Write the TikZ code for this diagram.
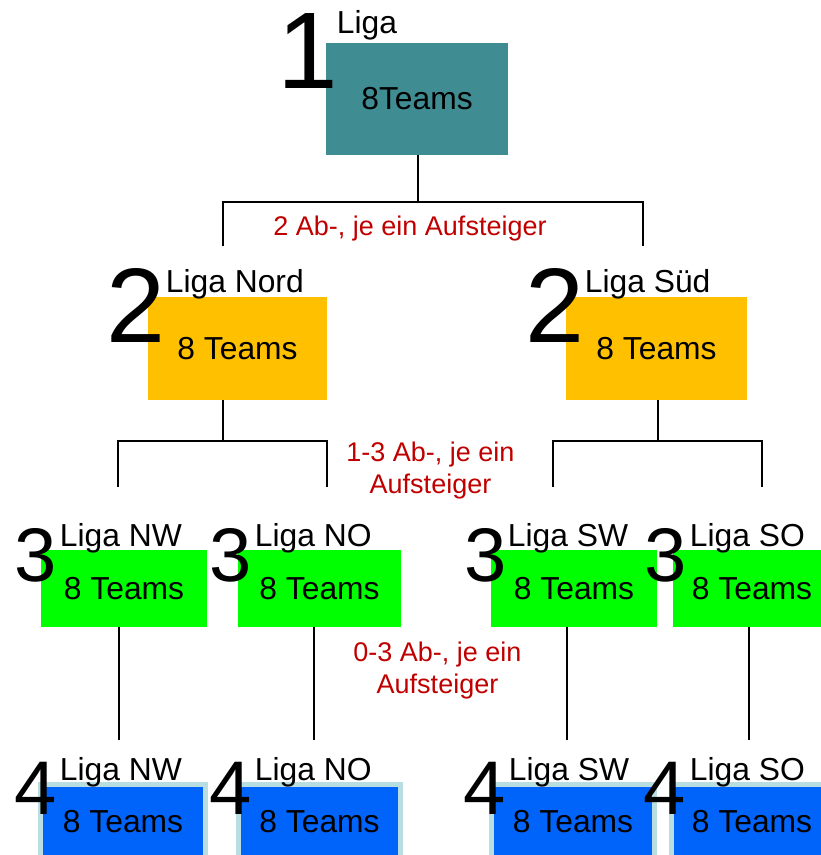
\documentclass[tikz,border=0pt]{standalone}
\usepackage{fontspec}
\setmainfont{Liberation Sans}
\usetikzlibrary{positioning}

\definecolor{cone}{RGB}{63,141,147}
\definecolor{ctwo}{RGB}{255,192,0}
\definecolor{cthree}{RGB}{0,255,0}
\definecolor{cfour}{RGB}{0,100,250}
\definecolor{crim}{RGB}{185,222,226}
\definecolor{cred}{RGB}{192,0,0}

\begin{document}
\begin{tikzpicture}[x=1pt, y=-1pt,
		b/.style={rectangle, inner sep=0pt, font=\fontsize{31.8}{32}\selectfont},
		b1/.style={b, fill=cone, minimum height=112},
		b2/.style={b, fill=ctwo, minimum height=103},
		b3/.style={b, fill=cthree, minimum height=77},
		b4/.style={b, fill=cfour, draw=crim, line width=5, minimum height=75},
		nr/.style={inner sep=0pt, anchor=base, font=\fontsize{#1}{#1}\selectfont},
		lb/.style={inner sep=0pt, anchor=base west, font=\fontsize{31.8}{32}\selectfont},
		rt/.style={inner sep=0pt, anchor=base, text=cred, align=center, font=\fontsize{27}{32}\selectfont},
		ln/.style={line width=2}]
		\useasboundingbox (0,0) rectangle (821,855);

		% boxes
		\node[b1, minimum width=182] (liga) at (417,99) {8Teams};
		\node[b2, minimum width=179] (nord) at (237.5,348.5) {8 Teams};
		\node[b2, minimum width=181] (sued) at (656.5,348.5) {8 Teams};
		\node[b3, minimum width=166] (nw3) at (124,588.5) {8 Teams};
		\node[b3, minimum width=163] (no3) at (319.5,588.5) {8 Teams};
		\node[b3, minimum width=166] (sw3) at (574,588.5) {8 Teams};
		\node[b3, minimum width=158] (so3) at (752,588.5) {8 Teams};
		\node[b4, minimum width=165] (nw4) at (123,822) {8 Teams};
		\node[b4, minimum width=162] (no4) at (319.5,822) {8 Teams};
		\node[b4, minimum width=163] (sw4) at (573,822) {8 Teams};
		\node[b4, minimum width=161] (so4) at (752,822) {8 Teams};

		% digits
		\node[nr=109] (d1) at (307.5,88) {1};
		\node[nr=106] (d2n) at (136,342) {2};
		\node[nr=106] (d2s) at (555,342) {2};
		\node[nr=76] (d3nw) at (36,581) {3};
		\node[nr=76] (d3no) at (231,581) {3};
		\node[nr=76] (d3sw) at (486,581) {3};
		\node[nr=76] (d3so) at (666,581) {3};
		\node[nr=76] (d4nw) at (36,814) {4};
		\node[nr=76] (d4no) at (231,814) {4};
		\node[nr=76] (d4sw) at (485,814) {4};
		\node[nr=76] (d4so) at (665,814) {4};

		% labels
		\node[lb] (t1) at (336.7,33) {Liga};
		\node[lb] (t2n) at (165.7,292) {Liga Nord};
		\node[lb] (t2s) at (584.7,292) {Liga Süd};
		\node[lb] (t3nw) at (59.7,546) {Liga NW};
		\node[lb] (t3no) at (254.7,546) {Liga NO};
		\node[lb] (t3sw) at (507.7,546) {Liga SW};
		\node[lb] (t3so) at (689.7,546) {Liga SO};
		\node[lb] (t4nw) at (59.7,780) {Liga NW};
		\node[lb] (t4no) at (254.7,780) {Liga NO};
		\node[lb] (t4sw) at (508.7,780) {Liga SW};
		\node[lb] (t4so) at (689.7,780) {Liga SO};

		% rules
		\node[rt] (r1) at (410,235) {2 Ab-, je ein Aufsteiger};
		\node[rt] (r2) at (430.5,493) {1-3 Ab-, je ein\\Aufsteiger};
		\node[rt] (r3) at (437.5,693) {0-3 Ab-, je ein\\Aufsteiger};

		% connectors
		\coordinate (k1) at (417.5,202);
		\coordinate (e1n) at (223,246);
		\coordinate (e1s) at (643,246);
		\coordinate (kn) at (223,441);
		\coordinate (ks) at (658,441);
		\coordinate (enw) at (118,487);
		\coordinate (eno) at (327,487);
		\coordinate (esw) at (553,487);
		\coordinate (eso) at (762,487);
		\coordinate (fnw) at (119,740);
		\coordinate (fno) at (314,740);
		\coordinate (fsw) at (567,740);
		\coordinate (fso) at (749,740);

		\path[ln] (liga.south -| k1) edge (k1);
		\draw[ln] (e1n) |- (k1) -| (e1s);
		\path[ln] (nord.south -| kn) edge (kn);
		\draw[ln] (enw) |- (kn) -| (eno);
		\path[ln] (sued.south -| ks) edge (ks);
		\draw[ln] (esw) |- (ks) -| (eso);
		\path[ln] (nw3.south -| fnw) edge (fnw);
		\path[ln] (no3.south -| fno) edge (fno);
		\path[ln] (sw3.south -| fsw) edge (fsw);
		\path[ln] (so3.south -| fso) edge (fso);
	\end{tikzpicture}
\end{document}
